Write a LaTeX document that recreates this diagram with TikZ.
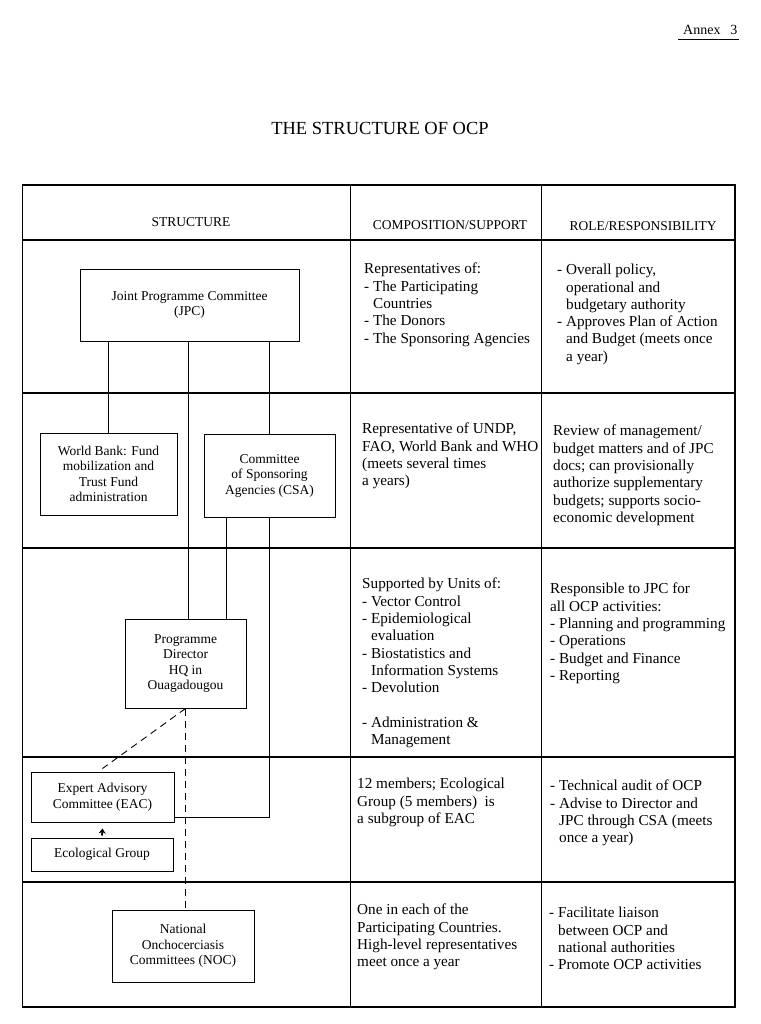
\documentclass[tikz,border=0pt]{standalone}
\usepackage{fontspec}
\setmainfont{Liberation Serif}
\usetikzlibrary{arrows.meta}
\tikzset{
  grid/.style={line width=1.1pt},
  orgbox/.style={draw, line width=1pt, align=center, inner sep=0pt, font=\fontsize{13.5}{15.5}\selectfont},
  cell/.style={anchor=north west, inner sep=0pt, align=left, font=\fontsize{15.2}{17.3}\selectfont},
  head/.style={inner sep=0pt, font=\fontsize{13.5}{15}\selectfont},
  link/.style={line width=0.9pt},
  dashlink/.style={line width=0.9pt, dash pattern=on 7pt off 5pt},
  uparrow/.style={line width=1.8pt, -{Stealth[length=5pt,width=7pt]}}
}
\newcommand{\ind}{\hspace*{9pt}}
\begin{document}
\begin{tikzpicture}[x=1pt,y=-1pt]
\useasboundingbox (0,0) rectangle (760,1024);
% header texts
\node[font=\fontsize{14}{16}\selectfont, inner sep=0pt, anchor=base west] (annex) at (683,35) {Annex\hspace{0.7em}3};
\draw[line width=0.8pt] (678,39.5) -- (739,39.5);
\node[font=\fontsize{18.5}{20}\selectfont, inner sep=0pt] (title) at (380,128) {THE STRUCTURE OF OCP};
% table
\draw[grid] (22.5,185) rectangle (735,1007);
\draw[grid] (350.5,185) -- (350.5,1007);
\draw[grid] (541.5,185) -- (541.5,1007);
\foreach \yy in {240,393,548,757,882} \draw[grid] (22.5,\yy) -- (735,\yy);
\node[head] (h1) at (191,222) {STRUCTURE};
\node[head] (h2) at (450,225) {COMPOSITION/SUPPORT};
\node[head] (h3) at (643,226) {ROLE/RESPONSIBILITY};
% org boxes
\node[orgbox, minimum width=219pt, minimum height=72pt] (jpc) at (189.5,305) {Joint Programme Committee\\(JPC)};
\node[orgbox, minimum width=137pt, minimum height=82pt] (wb) at (108.5,474) {World Bank: Fund\\mobilization and\\Trust Fund\\administration};
\node[orgbox, minimum width=131pt, minimum height=83pt] (csa) at (269.5,475.5) {Committee\\of Sponsoring\\Agencies (CSA)};
\node[orgbox, minimum width=121pt, minimum height=89pt] (pd) at (185.5,663.5) {Programme\\Director\\HQ in\\Ouagadougou};
\node[orgbox, minimum width=143pt, minimum height=50pt] (eac) at (102.5,797) {Expert Advisory\\Committee (EAC)};
\node[orgbox, minimum width=142pt, minimum height=33pt] (eco) at (102,854.5) {Ecological Group};
\node[orgbox, minimum width=142pt, minimum height=72pt] (noc) at (183,946) {National\\Onchocerciasis\\Committees (NOC)};
% connectors
\coordinate (xa) at (188,0);
\coordinate (xb) at (226,0);
\draw[link] (wb.north) -- (wb.north |- jpc.south);
\draw[link] (csa.north) -- (csa.north |- jpc.south);
\draw[link] (xa |- jpc.south) -- (xa |- pd.north);
\draw[link] (xb |- csa.south) -- (xb |- pd.north);
\draw[link] (csa.south) |- ([yshift=5pt]eac.south east);
\draw[uparrow] ([yshift=2pt]eco.north) -- ([yshift=-6pt]eac.south);
\draw[dashlink] (pd.south) -- (pd.south |- noc.north);
\draw[dashlink] (pd.south) -- ([yshift=3pt]eac.north);
% column 2
\node[cell] (c21) at (364,263) {Representatives of:\\- The Participating\\\ind Countries\\- The Donors\\- The Sponsoring Agencies};
\node[cell] (c22) at (362,423) {Representative of UNDP,\\FAO, World Bank and WHO\\(meets several times\\a years)};
\node[cell] (c23) at (362,578) {Supported by Units of:\\- Vector Control\\- Epidemiological\\\ind evaluation\\- Biostatistics and\\\ind Information Systems\\- Devolution\\[17.3pt]- Administration \&\\\ind Management};
\node[cell] (c24) at (357,778) {12 members; Ecological\\Group (5 members)\ \ is\\a subgroup of EAC};
\node[cell] (c25) at (357,904) {One in each of the\\Participating Countries.\\High-level representatives\\meet once a year};
% column 3
\node[cell] (c31) at (557,264) {- Overall policy,\\\ind operational and\\\ind budgetary authority\\- Approves Plan of Action\\\ind and Budget (meets once\\\ind a year)};
\node[cell] (c32) at (553,425) {Review of management/\\budget matters and of JPC\\docs; can provisionally\\authorize supplementary\\budgets; supports socio-\\economic development};
\node[cell] (c33) at (550,583) {Responsible to JPC for\\all OCP activities:\\- Planning and programming\\- Operations\\- Budget and Finance\\- Reporting};
\node[cell] (c34) at (550,780) {- Technical audit of OCP\\- Advise to Director and\\\ind JPC through CSA (meets\\\ind once a year)};
\node[cell] (c35) at (549,907) {- Facilitate liaison\\\ind between OCP and\\\ind national authorities\\- Promote OCP activities};
\end{tikzpicture}
\end{document}
